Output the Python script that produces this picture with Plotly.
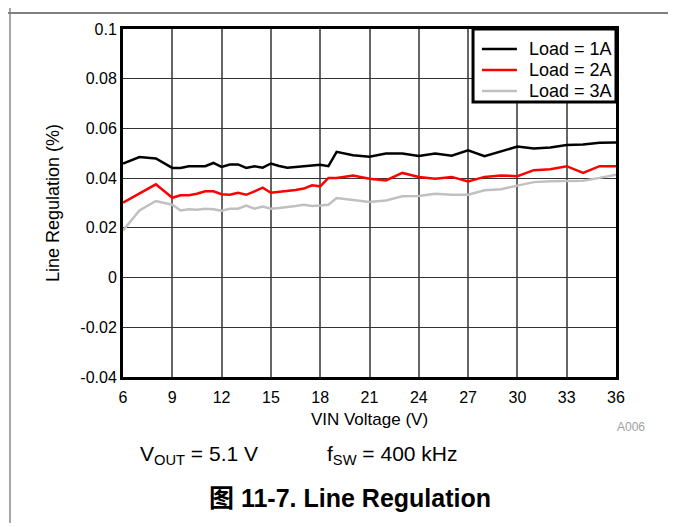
import plotly.graph_objects as go

## VIN voltage sample points (V)
vin = [6, 7, 8, 9, 9.5, 10, 10.5, 11, 11.5, 12, 12.5, 13, 13.5, 14, 14.5, 15, 15.5,
       16, 16.5, 17, 17.5, 18, 18.5, 19, 20, 21, 22, 23, 24, 25, 26, 27, 28, 29, 30,
       31, 32, 33, 34, 35, 36]

## Line regulation (%) per load
load_1a = [0.0459, 0.0485, 0.0479, 0.0441, 0.0441, 0.0448, 0.0448, 0.0448, 0.0461, 0.0445,
           0.0455, 0.0455, 0.0441, 0.0448, 0.0442, 0.0459, 0.0449, 0.0442, 0.0445, 0.0448,
           0.0452, 0.0454, 0.0448, 0.0506, 0.0492, 0.0486, 0.0499, 0.0499, 0.0489, 0.0499,
           0.0490, 0.0512, 0.0488, 0.0508, 0.0527, 0.0519, 0.0523, 0.0533, 0.0535, 0.0542,
           0.0543]
load_2a = [0.0301, 0.0338, 0.0375, 0.0321, 0.0331, 0.0331, 0.0337, 0.0347, 0.0347, 0.0335,
           0.0333, 0.0341, 0.0333, 0.0347, 0.0362, 0.0341, 0.0344, 0.0347, 0.0352, 0.0358,
           0.0371, 0.0367, 0.0401, 0.0401, 0.0411, 0.0398, 0.0391, 0.0421, 0.0405, 0.0398,
           0.0405, 0.0387, 0.0405, 0.0411, 0.0408, 0.0432, 0.0436, 0.0448, 0.0421, 0.0448,
           0.0448]
load_3a = [0.0189, 0.0270, 0.0308, 0.0293, 0.0270, 0.0275, 0.0273, 0.0277, 0.0275, 0.0269,
           0.0277, 0.0277, 0.0290, 0.0277, 0.0286, 0.0277, 0.0280, 0.0283, 0.0288, 0.0293,
           0.0288, 0.0290, 0.0293, 0.0320, 0.0313, 0.0304, 0.0310, 0.0327, 0.0328, 0.0337,
           0.0333, 0.0333, 0.0351, 0.0355, 0.0370, 0.0384, 0.0387, 0.0387, 0.0390, 0.0401,
           0.0414]

series_names = ['Load = 1A', 'Load = 2A', 'Load = 3A']
series_colors = ['#000000', '#ff0000', '#c0c0c0']

x_ticks = [6, 9, 12, 15, 18, 21, 24, 27, 30, 33, 36]
y_ticks = [-0.04, -0.02, 0, 0.02, 0.04, 0.06, 0.08, 0.1]
y_tick_labels = ['-0.04', '-0.02', '0', '0.02', '0.04', '0.06', '0.08', '0.1']

FONT = 'Liberation Sans, Arial, Noto Sans CJK SC, sans-serif'

fig = go.Figure()
for name, ys, col in zip(series_names, [load_1a, load_2a, load_3a], series_colors):
    fig.add_trace(go.Scatter(x=vin, y=ys, mode='lines', name=name,
                             line=dict(color=col, width=2.5)))

## page has an 8px body margin, so the figure is sized/offset to compensate
fig.update_layout(
    width=665, height=515,
    margin=dict(l=115, r=57, t=21, b=146),
    paper_bgcolor='white', plot_bgcolor='white',
    font=dict(family=FONT, size=16, color='black'),
    showlegend=False,
)

fig.update_xaxes(range=[6, 36], tickvals=x_ticks, showgrid=True,
                 gridcolor='#666666', gridwidth=1.5,
                 showline=True, linecolor='black', linewidth=3, mirror=True,
                 ticks='', tickfont=dict(size=16), ticklabelstandoff=4,
                 title=dict(text='VIN Voltage (V)', font=dict(size=17), standoff=8),
                 zeroline=False)
fig.update_yaxes(range=[-0.04, 0.1], tickvals=y_ticks, ticktext=y_tick_labels,
                 showgrid=True, gridcolor='#333333', gridwidth=1,
                 showline=True, linecolor='black', linewidth=3, mirror=True,
                 ticks='', tickfont=dict(size=16),
                 title=dict(text='Line Regulation (%)', font=dict(size=18), standoff=17),
                 zeroline=False)

## boxed legend in the top-right corner of the plot
fig.add_shape(type='rect', xref='paper', yref='paper', x0=0.71, x1=1.0, y0=0.79, y1=1.0,
              fillcolor='white', line=dict(color='black', width=3), layer='above')
for i, (name, col) in enumerate(zip(series_names, series_colors)):
    row_y = 0.9425 - i * 0.0603
    fig.add_shape(type='line', xref='paper', yref='paper', x0=0.728, x1=0.799,
                  y0=row_y, y1=row_y, line=dict(color=col, width=2.5), layer='above')
    fig.add_annotation(text=name, xref='paper', yref='paper', x=0.8195, y=row_y,
                       xanchor='left', yanchor='middle', showarrow=False,
                       font=dict(size=18))

## page frame lines around the figure
fig.add_shape(type='line', xref='paper', yref='paper', x0=-0.26, x1=1.13, y0=1.046, y1=1.046,
              line=dict(color='#555555', width=1.5))
fig.add_shape(type='line', xref='paper', yref='paper', x0=-0.2292, x1=-0.2292, y0=-0.44, y1=1.09,
              line=dict(color='#888888', width=1.5))
fig.add_shape(type='line', xref='paper', yref='paper', x0=1.1116, x1=1.1116, y0=-0.44, y1=1.09,
              line=dict(color='#888888', width=1.5))

fig.add_annotation(text='A006', xref='paper', yref='paper', x=1.03, y=-0.1437,
                   xanchor='center', yanchor='middle',
                   showarrow=False, font=dict(size=12, color='#a0a0a0'))
fig.add_annotation(text='V<sub>OUT</sub> = 5.1 V', xref='paper', yref='paper',
                   x=0.0304, y=-0.224, xanchor='left', yanchor='middle',
                   showarrow=False, font=dict(size=21))
fig.add_annotation(text='f<sub>SW</sub> = 400 kHz', xref='paper', yref='paper',
                   x=0.41, y=-0.224, xanchor='left', yanchor='middle',
                   showarrow=False, font=dict(size=21))
fig.add_annotation(text='<b>图 11-7. Line Regulation</b>', xref='paper', yref='paper',
                   x=0.46, y=-0.348, xanchor='center', yanchor='middle',
                   showarrow=False, font=dict(size=25))

fig.write_html('out.html')
